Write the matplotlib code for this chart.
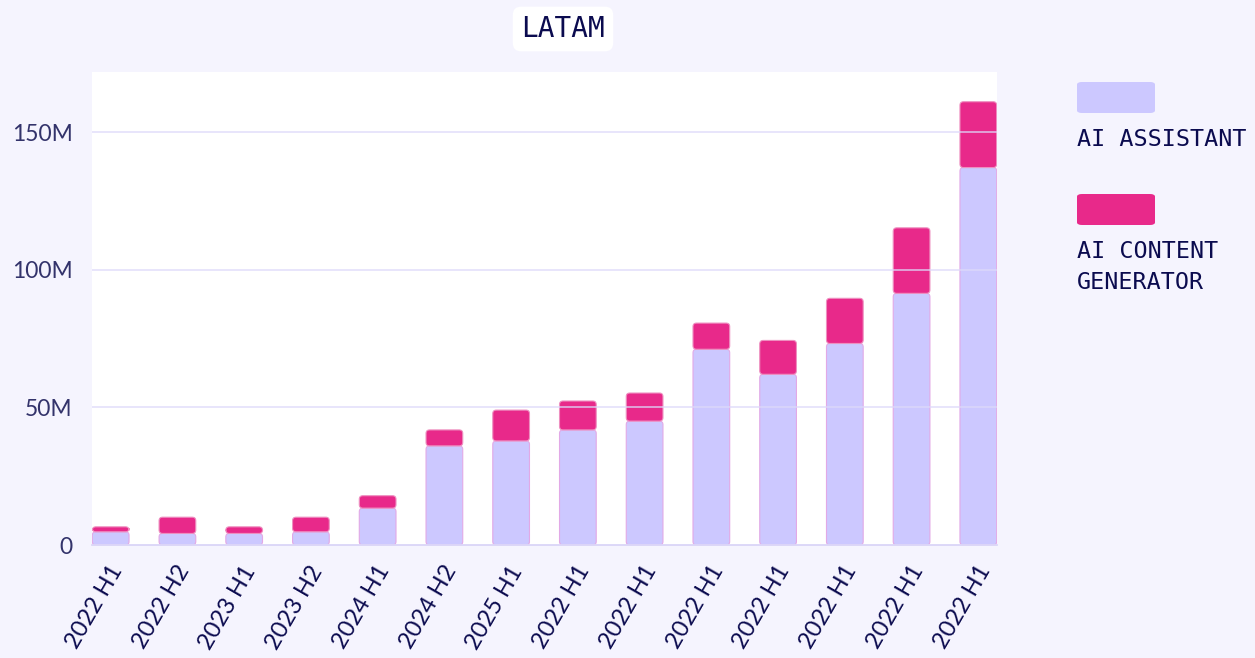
import matplotlib.pyplot as plt
from matplotlib.patches import FancyBboxPatch
from matplotlib.ticker import FuncFormatter
from matplotlib.transforms import ScaledTranslation

periods = ['2022 H1', '2022 H2', '2023 H1', '2023 H2', '2024 H1', '2024 H2', '2025 H1',
           '2022 H1', '2022 H1', '2022 H1', '2022 H1', '2022 H1', '2022 H1', '2022 H1']
# millions of users
assistant = [4.8, 4.2, 4.2, 4.8, 13.4, 36.0, 37.8, 41.8, 45.0, 71.1, 62.0, 73.2, 91.4, 137.1]
content_gen = [1.8, 5.9, 2.4, 5.3, 4.5, 5.8, 11.2, 10.5, 10.2, 9.5, 12.3, 16.4, 23.8, 23.9]

BG = '#F5F4FE'
LAVENDER = '#CCC8FF'
PINK = '#E8298A'
NAVY = '#0B0B4F'
GRID = '#DDD9FA'

fig = plt.figure(figsize=(12.55, 6.58), dpi=100, facecolor=BG)
ax = fig.add_axes([92 / 1255, 113 / 658, 905 / 1255, 473 / 658])
ax.set_facecolor('white')

x = list(range(len(periods)))
b1 = ax.bar(x, assistant, width=0.55, color=LAVENDER, edgecolor='#E2A9E6', linewidth=0.8, zorder=2)
b2 = ax.bar(x, content_gen, width=0.55, bottom=assistant, color=PINK, edgecolor='#EE8FC0',
            linewidth=0.8, zorder=2)

ax.set_xlim(-0.28, 13.28)
ax.set_ylim(0, 171.8)

# swap square bars for ones with slightly rounded corners
px_x = 905 / (13.28 + 0.28)
px_y = 473 / 171.8
for bars in (b1, b2):
    for p in bars:
        p.set_visible(False)
        rp = FancyBboxPatch((p.get_x(), p.get_y()), p.get_width(), p.get_height(),
                            boxstyle='round,pad=0,rounding_size=%f' % (3.5 / px_x),
                            mutation_aspect=px_x / px_y,
                            facecolor=p.get_facecolor(), edgecolor=p.get_edgecolor(),
                            linewidth=0.8, zorder=2)
        ax.add_patch(rp)

ax.set_yticks([0, 50, 100, 150])
ax.yaxis.set_major_formatter(FuncFormatter(lambda v, _: '0' if v == 0 else '%dM' % v))
ax.grid(axis='y', color=GRID, linewidth=1.2, alpha=0.8, zorder=3)
ax.set_axisbelow(False)
for s in ['top', 'right', 'left']:
    ax.spines[s].set_visible(False)
ax.spines['bottom'].set_color('#D8D2F6')
ax.spines['bottom'].set_linewidth(1.2)

ax.tick_params(axis='y', length=0, pad=14, labelsize=16.5, labelcolor='#33336B')
ax.tick_params(axis='x', length=0, pad=16, labelsize=17, labelcolor=NAVY)
ax.set_xticks(x)
ax.set_xticklabels(periods, rotation=60, ha='right', va='center', rotation_mode='anchor',
                   fontfamily='Lato')
# nudge the slanted labels a little to the right
shift = ScaledTranslation(5 / 72, 0, fig.dpi_scale_trans)
for lbl in ax.get_xticklabels():
    lbl.set_transform(lbl.get_transform() + shift)
for lbl in ax.get_yticklabels():
    lbl.set_fontfamily('Lato')

# title in a white rounded box
fig.text(563 / 1255, 1 - 29 / 658, 'LATAM', ha='center', va='center', fontsize=20,
         family='DejaVu Sans Mono', color=NAVY,
         bbox=dict(boxstyle='round,pad=0.3,rounding_size=0.3', fc='white', ec='none'))

# legend on the right
for (y0, col) in [(82, LAVENDER), (194, PINK)]:
    fig.patches.append(FancyBboxPatch((1077 / 1255, 1 - (y0 + 31) / 658), 78 / 1255, 31 / 658,
                                      boxstyle='round,pad=0,rounding_size=0.004',
                                      transform=fig.transFigure, fc=col, ec='none'))
fig.text(1077 / 1255, 1 - 140 / 658, 'AI ASSISTANT', ha='left', va='center', fontsize=16.8,
         family='DejaVu Sans Mono', color=NAVY)
fig.text(1077 / 1255, 1 - 267 / 658, 'AI CONTENT\nGENERATOR', ha='left', va='center',
         fontsize=16.8, family='DejaVu Sans Mono', color=NAVY, linespacing=1.4)

fig.savefig('out.png', dpi=100, facecolor=BG)
